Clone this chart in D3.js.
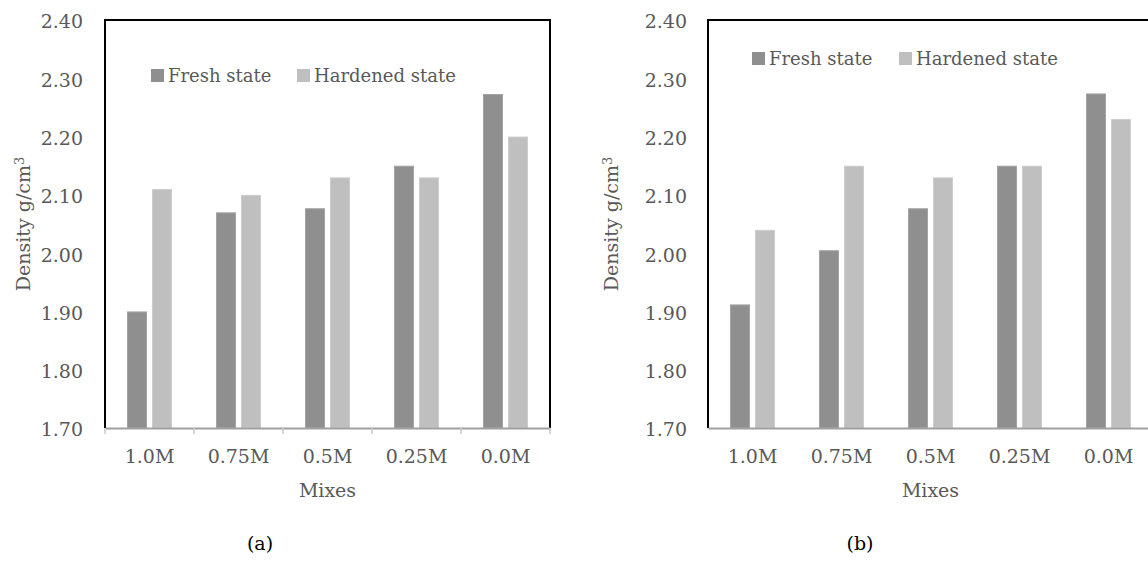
<!DOCTYPE html>
<html>
<head>
<meta charset="utf-8">
<style>
  body { margin: 0; background: #fff; }
  svg text { font-family: "DejaVu Serif", serif !important; }
</style>
</head>
<body>
<svg width="1148" height="566"></svg>
<script src="https://cdn.jsdelivr.net/npm/d3@7"></script>
<script>

    var mixes = ["1.0M", "0.75M", "0.5M", "0.25M", "0.0M"];
    var series = ["Fresh state", "Hardened state"];
    var yTicks = [1.70, 1.80, 1.90, 2.00, 2.10, 2.20, 2.30, 2.40];

    // panel (a)
    var freshA = [1.90, 2.07, 2.077, 2.15, 2.273];
    var hardA = [2.11, 2.10, 2.13, 2.13, 2.20];
    // panel (b)
    var freshB = [1.912, 2.005, 2.077, 2.15, 2.274];
    var hardB = [2.04, 2.15, 2.13, 2.15, 2.23];

    var colors = {"Fresh state": "#8f8f8f", "Hardened state": "#bfbfbf"};
    var edgeColors = {"Fresh state": "#a3a3a3", "Hardened state": "#cdcdcd"};
    var textColor = "#595959";
    var fs = 19;

    var svg = d3.select("svg"),
        width = 445,
        height = 408;

    function panel(left, fresh, hard, opts) {
        var g = svg.append("g").attr("transform", "translate(" + left + ",20)");

        var x0 = d3.scaleBand().domain(mixes).range([0, width]);
        var x1 = d3.scaleBand().domain(series)
                .range([x0.bandwidth() / 2 - 22.5, x0.bandwidth() / 2 + 22.5])
                .paddingInner(0.2);
        var y = d3.scaleLinear().domain([1.70, 2.40]).range([height, 0]);

        var rows = mixes.map(function(m, i) {
            return {mix: m, values: [{key: series[0], value: fresh[i]}, {key: series[1], value: hard[i]}]};
        });

        // bars
        g.selectAll(".grp")
                .data(rows)
                .enter().append("g")
                .attr("transform", function(d) { return "translate(" + x0(d.mix) + ",0)"; })
                .selectAll("rect")
                .data(function(d) { return d.values; })
                .enter().append("rect")
                .attr("x", function(d) { return x1(d.key) + 0.5; })
                .attr("width", x1.bandwidth() - 1)
                .attr("y", function(d) { return y(d.value) + 0.5; })
                .attr("height", function(d) { return height - y(d.value) - 0.5; })
                .attr("fill", function(d) { return colors[d.key]; })
                .attr("stroke", function(d) { return edgeColors[d.key]; })
                .attr("stroke-width", 1);

        // y axis labels
        var ya = g.append("g")
                .call(d3.axisLeft(y).tickValues(yTicks).tickSize(0).tickPadding(opts.ypad).tickFormat(d3.format(".2f")));
        ya.select(".domain").remove();
        ya.selectAll("text").attr("fill", textColor).attr("font-size", fs).attr("dy", "0.42em");

        // frame (left, top, right)
        g.append("path")
                .attr("d", "M0," + height + "V0H" + width + "V" + height)
                .attr("fill", "none")
                .attr("stroke", "#000")
                .attr("stroke-width", 2);

        // x axis
        var xa = g.append("g")
                .attr("transform", "translate(0," + height + ")")
                .call(d3.axisBottom(x0).tickSize(0).tickPadding(22));
        xa.select(".domain").attr("stroke", "#a0a0a0").attr("stroke-width", 2);
        xa.selectAll("text").attr("fill", textColor).attr("font-size", fs);

        if (opts.ticks) {
            var edges = mixes.map(function(m) { return x0(m); }).concat([width]);
            xa.selectAll(".edge")
                    .data(edges)
                    .enter().append("line")
                    .attr("x1", function(d) { return d; })
                    .attr("x2", function(d) { return d; })
                    .attr("y1", 0)
                    .attr("y2", 6)
                    .attr("stroke", "#c8c8c8")
                    .attr("stroke-width", 1.5);
        }

        g.append("text")
                .attr("x", width / 2)
                .attr("y", height + 69)
                .attr("text-anchor", "middle")
                .attr("font-size", fs)
                .attr("fill", textColor)
                .text("Mixes");

        var yt = g.append("text")
                .attr("transform", "translate(" + opts.titleX + "," + (height / 2) + ") rotate(-90)")
                .attr("text-anchor", "middle")
                .attr("font-size", fs)
                .attr("fill", textColor);
        yt.append("tspan").text("Density g/cm");
        yt.append("tspan").attr("dy", "-0.45em").attr("font-size", 13).text("3");

        // legend
        var lg = g.append("g").attr("transform", "translate(0," + opts.legY + ")");
        series.forEach(function(s, i) {
            var lx = opts.legX[i];
            lg.append("rect")
                    .attr("x", lx)
                    .attr("y", -13)
                    .attr("width", 13)
                    .attr("height", 13)
                    .attr("fill", colors[s]);
            lg.append("text")
                    .attr("x", lx + 17)
                    .attr("y", 0)
                    .attr("font-size", 18)
                    .attr("fill", textColor)
                    .text(s);
        });

        svg.append("text")
                .attr("x", left + opts.capX)
                .attr("y", 550)
                .attr("text-anchor", "middle")
                .attr("font-size", fs)
                .attr("fill", "#000")
                .text(opts.caption);
    }

    panel(105, freshA, hardA, {ypad: 22, ticks: true, titleX: -75, legY: 62, legX: [46, 192], capX: 155, caption: "(a)"});
    panel(708, freshB, hardB, {ypad: 21, ticks: false, titleX: -90, legY: 45, legX: [44, 191], capX: 152, caption: "(b)"});

</script>
</body>
</html>
